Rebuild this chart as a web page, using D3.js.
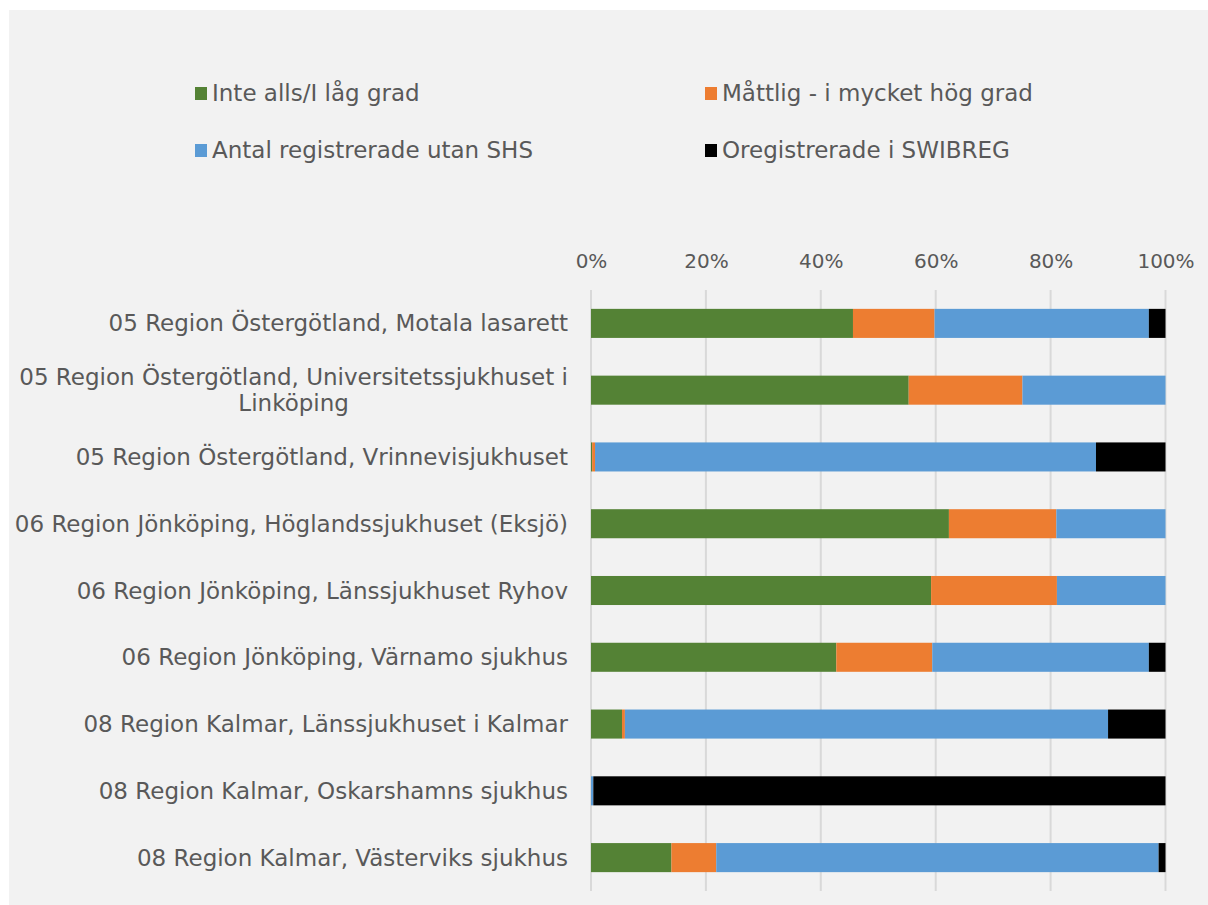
<!DOCTYPE html>
<html>
<head>
<meta charset="utf-8">
<script src="https://cdn.jsdelivr.net/npm/d3@7"></script>
<style>
  html, body { margin: 0; padding: 0; background: #ffffff; }
  svg { display: block; }
  text { font-family: "DejaVu Sans", sans-serif; fill: #595959; }
</style>
</head>
<body>
<svg id="chart" width="1208" height="905"></svg>
<script>
const categories = [
  "05 Region Östergötland, Motala lasarett",
  "05 Region Östergötland, Universitetssjukhuset i Linköping",
  "05 Region Östergötland, Vrinnevisjukhuset",
  "06 Region Jönköping, Höglandssjukhuset (Eksjö)",
  "06 Region Jönköping, Länssjukhuset Ryhov",
  "06 Region Jönköping, Värnamo sjukhus",
  "08 Region Kalmar, Länssjukhuset i Kalmar",
  "08 Region Kalmar, Oskarshamns sjukhus",
  "08 Region Kalmar, Västerviks sjukhus"
];
const seriesNames = [
  "Inte alls/I låg grad",
  "Måttlig - i mycket hög grad",
  "Antal registrerade utan SHS",
  "Oregistrerade i SWIBREG"
];
const inteAlls      = [45.6, 55.3, 0.2, 62.3, 59.2, 42.7, 5.4, 0.0, 14.0];
const mattlig       = [14.2, 19.8, 0.5, 18.7, 21.9, 16.7, 0.5, 0.0, 7.8];
const utanSHS       = [37.3, 24.9, 87.2, 19.0, 18.9, 37.7, 84.1, 0.4, 77.0];
const oregistrerade = [2.9, 0.0, 12.1, 0.0, 0.0, 2.9, 10.0, 99.6, 1.2];
const tickValues = [0, 0.2, 0.4, 0.6, 0.8, 1.0];
const colors = ["#548235", "#ED7D31", "#5B9BD5", "#000000"];

const seriesValues = [inteAlls, mattlig, utanSHS, oregistrerade];
const rows = categories.map((c, i) => {
  const r = { cat: c };
  seriesNames.forEach((s, j) => r[s] = seriesValues[j][i]);
  return r;
});

const FONT = '"DejaVu Sans", sans-serif';
const fs = 23;

const svg = d3.select("#chart");
svg.append("rect").attr("x", 9).attr("y", 10).attr("width", 1199).attr("height", 895).attr("fill", "#f2f2f2");

const x = d3.scaleLinear().domain([0, 1]).range([591, 1165.5]);
const y = d3.scaleBand().domain(categories).range([290, 891]).paddingInner(0.565).paddingOuter(0.2825);

// gridlines
svg.append("g").selectAll("line").data(tickValues).join("line")
  .attr("x1", d => x(d)).attr("x2", d => x(d))
  .attr("y1", 290).attr("y2", 891)
  .attr("stroke", "#d9d9d9").attr("stroke-width", 2);

// axis
const axis = d3.axisTop(x).tickValues(tickValues).tickFormat(d3.format(".0%")).tickSize(0).tickPadding(0);
const ag = svg.append("g").attr("transform", "translate(0,268)").call(axis);
ag.select(".domain").remove();
ag.selectAll("text").attr("font-size", 20).attr("fill", "#595959")
  .style("font-family", FONT).attr("dy", 0);

// stacks
const stack = d3.stack().keys(seriesNames).offset(d3.stackOffsetExpand);
const stacked = stack(rows);
svg.append("g").selectAll("g").data(stacked).join("g")
  .attr("fill", (d, i) => colors[i])
  .selectAll("rect").data(d => d).join("rect")
  .attr("x", d => x(d[0]))
  .attr("width", d => Math.max(0, x(d[1]) - x(d[0])))
  .attr("y", d => y(d.data.cat))
  .attr("height", y.bandwidth());

// category labels
const lg = svg.append("g");
const measure = lg.append("text").attr("font-size", fs).text(categories[3]);
const maxW = measure.node().getComputedTextLength() * 1.03;
measure.remove();
categories.forEach(c => {
  const words = c.split(" ");
  const lines = [];
  let cur = "";
  const t = lg.append("text").attr("font-size", fs);
  words.forEach(w => {
    const test = cur ? cur + " " + w : w;
    t.text(test);
    if (t.node().getComputedTextLength() > maxW && cur) { lines.push(cur); cur = w; }
    else cur = test;
  });
  lines.push(cur);
  t.text(null);
  const cy = y(c) + y.bandwidth() / 2;
  const lh = 26;
  const widths = lines.map(l => { t.text(l); return t.node().getComputedTextLength(); });
  t.text(null);
  const maxLine = d3.max(widths);
  const anchorX = lines.length > 1 ? 568 - maxLine / 2 : 568;
  t.attr("text-anchor", lines.length > 1 ? "middle" : "end");
  lines.forEach((l, k) => {
    t.append("tspan").attr("x", anchorX)
      .attr("y", cy + 8 + (k - (lines.length - 1) / 2) * lh)
      .text(l);
  });
});

// legend
const legendPos = [[195, 101], [705, 101], [195, 158], [705, 158]];
const leg = svg.append("g");
seriesNames.forEach((s, i) => {
  const g = leg.append("g").attr("transform", `translate(${legendPos[i][0]},${legendPos[i][1]})`);
  g.append("rect").attr("x", 0).attr("y", -14).attr("width", 12).attr("height", 13).attr("fill", colors[i]);
  g.append("text").attr("x", 17).attr("y", 0).attr("font-size", fs).text(s);
});
</script>
</body>
</html>
